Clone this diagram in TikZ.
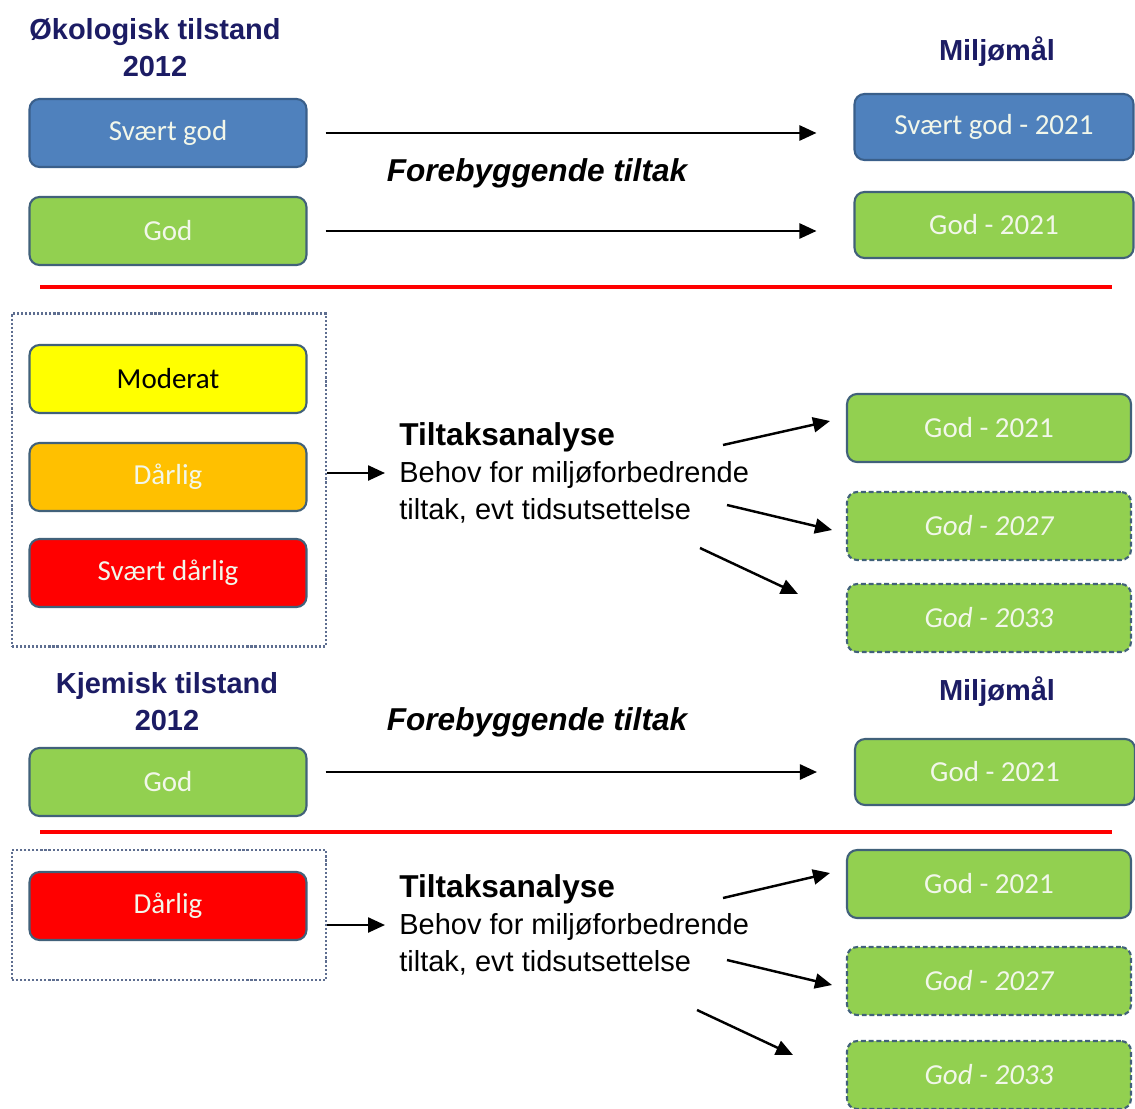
\documentclass[tikz,border=0pt]{standalone}
\usepackage{fontspec}
\setmainfont{Liberation Sans}
\newfontfamily\boxfont{Carlito}
\usetikzlibrary{arrows.meta,positioning}
\definecolor{navy}{HTML}{1C1C64}
\definecolor{sgblue}{HTML}{4F81BD}
\definecolor{sgedge}{HTML}{3A5F8A}
\definecolor{godgreen}{HTML}{92D050}
\definecolor{godedge}{HTML}{41617A}
\definecolor{boxtxt}{HTML}{F2F7EA}
\definecolor{dotedge}{HTML}{5E6E90}
\definecolor{darorange}{HTML}{FFC000}
\definecolor{darred}{HTML}{FF0000}
\definecolor{modyellow}{HTML}{FFFF00}

\begin{document}
\begin{tikzpicture}[x=0.02cm,y=-0.02cm,
  state/.style={draw=godedge,line width=1.2pt,rounded corners=0.2cm,fill=godgreen,text=boxtxt,
    minimum width=5.54cm,minimum height=1.36cm,inner sep=0pt,font=\boxfont\fontsize{16.5}{19}\selectfont},
  goal/.style={state,minimum width=5.58cm,minimum height=1.32cm},
  wide/.style={state,minimum width=5.68cm},
  later/.style={wide,dash pattern=on 2.8pt off 1.6pt,font=\boxfont\itshape\fontsize{16.5}{19}\selectfont},
  head/.style={text=navy,align=center,inner sep=0pt,font=\bfseries\fontsize{16.5}{21}\selectfont},
  tilt/.style={inner sep=0pt,font=\bfseries\itshape\fontsize{18}{21}\selectfont},
  analyse/.style={anchor=west,align=left,inner sep=0pt,font=\fontsize{16.5}{21}\selectfont},
  group/.style={draw=dotedge,line width=1.5pt,dash pattern=on 1.2pt off 1.1pt,
    minimum width=6.28cm,inner sep=0pt},
  flow/.style={-{Triangle[length=0.34cm,width=0.3cm]},line width=1.4pt},
  divider/.style={draw=darred,line width=2.8pt}]
  \useasboundingbox (0,0) rectangle (1135,1108);

  \node [head] (eco) at (155,48) {Økologisk tilstand\\2012};
  \node [head] (mal_A) at (997,52) {Miljømål};
  \node [state,fill=sgblue,draw=sgedge] (sg_A) at (168,133) {Svært god};
  \node [state] (god_A) at (168,231) {God};
  \node [goal,fill=sgblue,draw=sgedge] (sg_B) at (994,127) {Svært god - 2021};
  \node [goal] (god_B) at (994,225) {God - 2021};
  \node [tilt] (fore_A) at (537,173) {Forebyggende tiltak};
  \draw [flow,shorten <=0.36cm,shorten >=0.74cm] (sg_A.east) -- (sg_A.east -| sg_B.west);
  \draw [flow,shorten <=0.36cm,shorten >=0.74cm] (god_A.east) -- (god_A.east -| god_B.west);
  \draw [divider] (40,287) -- (1112,287);

  \node [group,minimum height=6.66cm] (grp_A) at (169,480) {};
  \node [state,fill=modyellow,text=black] (mod) at (168,379) {Moderat};
  \node [state,fill=darorange] (dar_A) at (168,477) {Dårlig};
  \node [state,fill=darred] (sd) at (168,573) {Svært dårlig};
  \node [analyse] (ana_A) at (399,473) {{\bfseries\fontsize{18}{21}\selectfont Tiltaksanalyse}\\
    Behov for miljøforbedrende\\tiltak, evt tidsutsettelse};
  \draw [flow,shorten >=0.28cm] (grp_A.east |- ana_A.west) -- (ana_A.west);
  \node [wide] (god_C) at (989,428) {God - 2021};
  \node [later] (god_D) at (989,526) {God - 2027};
  \node [later] (god_E) at (989,618) {God - 2033};
  \foreach \n/\xa/\ya/\xb/\yb in {1/723/445/830/421,2/727/505/832/530,3/700/548/798/594}
    {\coordinate (sA\n) at (\xa,\ya); \coordinate (eA\n) at (\xb,\yb);
     \draw [flow] (sA\n) -- (eA\n);}

  \node [head] (kje) at (167,702) {Kjemisk tilstand\\2012};
  \node [head] (mal_B) at (997,692) {Miljømål};
  \node [tilt] (fore_B) at (537,722) {Forebyggende tiltak};
  \node [state] (god_F) at (168,782) {God};
  \node [goal,minimum width=5.6cm] (god_G) at (995,772) {God - 2021};
  \draw [flow,shorten <=0.36cm,shorten >=0.74cm] (god_F.east |- god_G.west) -- (god_G.west);
  \draw [divider] (40,832) -- (1112,832);

  \node [group,minimum height=2.6cm] (grp_B) at (169,915) {};
  \node [state,fill=darred] (dar_B) at (168,906) {Dårlig};
  \node [analyse] (ana_B) at (399,925) {{\bfseries\fontsize{18}{21}\selectfont Tiltaksanalyse}\\
    Behov for miljøforbedrende\\tiltak, evt tidsutsettelse};
  \draw [flow,shorten >=0.28cm] (grp_B.east |- ana_B.west) -- (ana_B.west);
  \node [wide] (god_H) at (989,884) {God - 2021};
  \node [later] (god_I) at (989,981) {God - 2027};
  \node [later] (god_J) at (989,1075) {God - 2033};
  \foreach \n/\xa/\ya/\xb/\yb in {1/723/898/830/873,2/727/960/832/985,3/697/1010/793/1055}
    {\coordinate (sB\n) at (\xa,\ya); \coordinate (eB\n) at (\xb,\yb);
     \draw [flow] (sB\n) -- (eB\n);}
\end{tikzpicture}
\end{document}
